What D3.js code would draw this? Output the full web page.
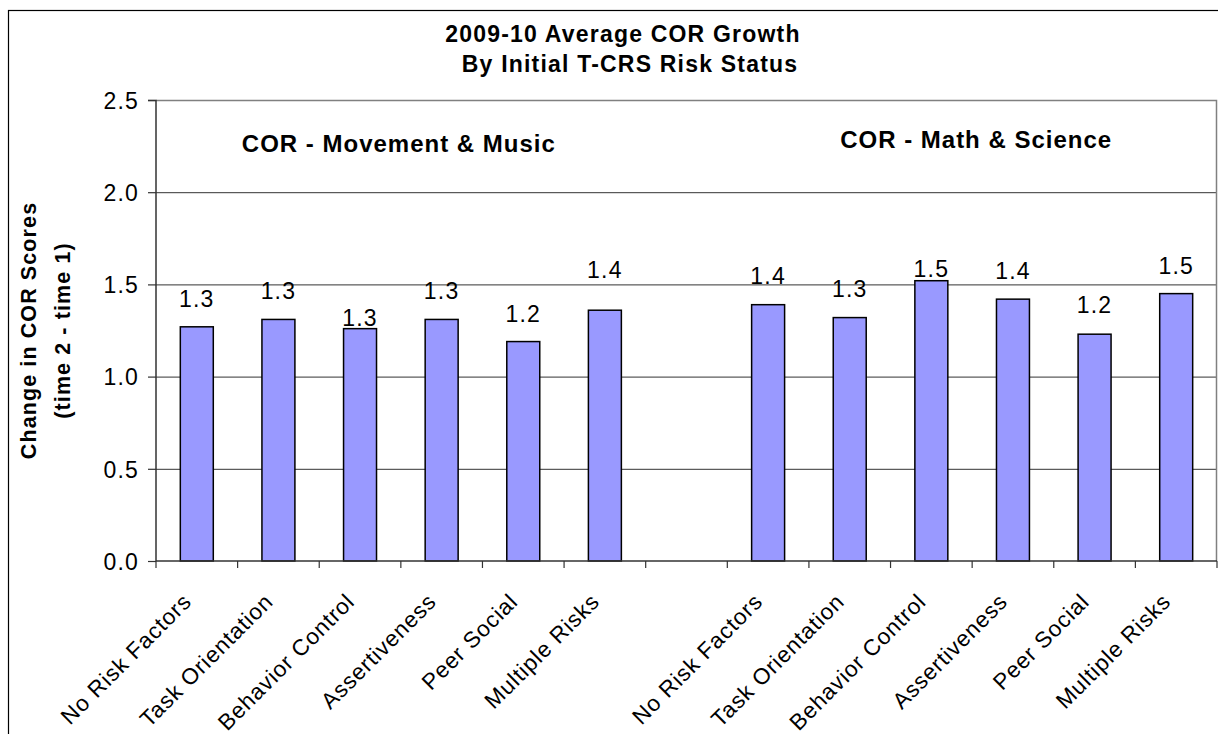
<!DOCTYPE html>
<html>
<head>
<meta charset="utf-8">
<script src="https://cdn.jsdelivr.net/npm/d3@7"></script>
<style>
  body { margin: 0; background: #fff; }
  text { font-family: "Liberation Sans", Arial, sans-serif; fill: #000; }
</style>
</head>
<body>
<div id="chart"></div>
<script>
// values
const categories = ["No Risk Factors", "Task Orientation", "Behavior Control", "Assertiveness", "Peer Social", "Multiple Risks"];
const groupNames = ["COR - Movement & Music", "COR - Math & Science"];
const movementMusic = [1.27, 1.31, 1.26, 1.31, 1.19, 1.36];
const mathScience = [1.39, 1.32, 1.52, 1.42, 1.23, 1.45];
const yTicks = [0, 0.5, 1.0, 1.5, 2.0, 2.5];
// label lift above the bar (px), the original labels were nudged by hand
const labelLiftMM = [20, 20, 3, 20, 20, 32];
const labelLiftMS = [21, 21, 4, 20, 21, 20];

const W = 1218, H = 734;
const margin = {top: 100, right: 1, bottom: 173, left: 156};
const innerW = W - margin.left - margin.right;
const innerH = H - margin.top - margin.bottom;

// 13 slots: 6 bars, one empty gap, 6 bars
const slots = [];
categories.forEach((c, i) => slots.push({key: "a" + i, name: c, value: movementMusic[i], lift: labelLiftMM[i]}));
slots.push({key: "gap", name: "", value: null});
categories.forEach((c, i) => slots.push({key: "b" + i, name: c, value: mathScience[i], lift: labelLiftMS[i]}));

const svg = d3.select("#chart").append("svg")
    .attr("width", W)
    .attr("height", H);

svg.append("rect").attr("width", W).attr("height", H).attr("fill", "#fff");

// chart area border (right side runs off the picture)
svg.append("rect")
    .attr("x", 8.5).attr("y", 10.5)
    .attr("width", 1236).attr("height", 760)
    .attr("fill", "none").attr("stroke", "#000").attr("stroke-width", 1.2);

const g = svg.append("g").attr("transform", `translate(${margin.left},${margin.top})`);

const x = d3.scaleBand()
    .domain(slots.map(d => d.key))
    .range([0, innerW])
    .paddingInner(0.596)
    .paddingOuter(0.298);

const y = d3.scaleLinear().domain([0, 2.5]).range([innerH, 0]);

// gridlines
g.append("g")
    .attr("class", "grid")
    .call(d3.axisLeft(y).tickValues(yTicks.slice(1, -1)).tickSize(-innerW).tickFormat(""))
    .call(s => s.select(".domain").remove())
    .call(s => s.selectAll("line").attr("stroke", "#333").attr("stroke-width", 1));

// plot area border top / right
g.append("path")
    .attr("d", `M0,0.5H${innerW - 0.5}V${innerH}`)
    .attr("fill", "none").attr("stroke", "#808080").attr("stroke-width", 1.5);

// bars
const bars = slots.filter(d => d.value !== null);
g.selectAll("rect.bar")
    .data(bars)
    .enter().append("rect")
    .attr("class", "bar")
    .attr("x", d => x(d.key))
    .attr("y", d => y(d.value))
    .attr("width", x.bandwidth())
    .attr("height", d => innerH - y(d.value))
    .attr("fill", "#9999ff")
    .attr("stroke", "#000")
    .attr("stroke-width", 1.5);

// value labels
g.selectAll("text.val")
    .data(bars)
    .enter().append("text")
    .attr("class", "val")
    .attr("x", d => x(d.key) + x.bandwidth() / 2)
    .attr("y", d => y(d.value) - d.lift)
    .attr("text-anchor", "middle")
    .style("font-size", "23px")
    .style("letter-spacing", "1.2px")
    .text(d => (Math.round(d.value * 10) / 10).toFixed(1));

// y axis
const yAxis = g.append("g")
    .call(d3.axisLeft(y).tickValues(yTicks).tickFormat(d3.format(".1f")).tickSize(8).tickPadding(9))
    .call(s => s.select(".domain").attr("stroke", "#333").attr("stroke-width", 1.5).attr("d", `M-8,0.5H0V${innerH}`));
yAxis.selectAll("line").attr("stroke", "#333").attr("stroke-width", 1.2);
yAxis.selectAll("text")
    .style("font-size", "23px")
    .style("letter-spacing", "1.2px")
    .attr("font-family", null)
    .attr("dy", "0.36em");

// x axis line and category tick marks
const bounds = d3.range(slots.length + 1).map(i => i * x.step());
g.append("line")
    .attr("x1", 0).attr("x2", innerW)
    .attr("y1", innerH).attr("y2", innerH)
    .attr("stroke", "#333").attr("stroke-width", 1.5);
g.selectAll("line.xtick")
    .data(bounds)
    .enter().append("line")
    .attr("class", "xtick")
    .attr("x1", d => d).attr("x2", d => d)
    .attr("y1", innerH).attr("y2", innerH + 7)
    .attr("stroke", "#333").attr("stroke-width", 1.2);

// rotated category labels
g.selectAll("text.cat")
    .data(bars)
    .enter().append("text")
    .attr("class", "cat")
    .attr("text-anchor", "end")
    .attr("transform", d => `translate(${x(d.key) + x.bandwidth() / 2 - 4},${innerH + 42}) rotate(-45)`)
    .style("font-size", "22.5px")
    .style("letter-spacing", "0.9px")
    .text(d => d.name);

// group labels inside plot
const groupX = [x("a0") + (x("a5") + x.bandwidth() - x("a0")) / 2, x("b0") + (x("b5") + x.bandwidth() - x("b0")) / 2];
g.selectAll("text.grp")
    .data(groupNames)
    .enter().append("text")
    .attr("class", "grp")
    .attr("x", (d, i) => groupX[i] + (i === 0 ? -2 : 4))
    .attr("y", (d, i) => i === 0 ? 52 : 48)
    .attr("text-anchor", "middle")
    .style("font-size", "24px")
    .style("font-weight", "bold")
    .style("letter-spacing", "1px")
    .text(d => d);

// chart title
const title = svg.append("text")
    .attr("text-anchor", "middle")
    .style("font-size", "23px")
    .style("font-weight", "bold")
    .style("letter-spacing", "1.2px");
title.append("tspan").attr("x", 623).attr("y", 42).text("2009-10 Average COR Growth");
title.append("tspan").attr("x", 630).attr("y", 72).text("By Initial T-CRS Risk Status");

// y axis title
const yTitle = svg.append("text")
    .attr("transform", `translate(0,${margin.top + innerH / 2}) rotate(-90)`)
    .attr("text-anchor", "middle")
    .style("font-size", "21.5px")
    .style("font-weight", "bold")
    .style("letter-spacing", "1.1px");
yTitle.append("tspan").attr("x", 0).attr("y", 36).text("Change in COR Scores");
yTitle.append("tspan").attr("x", 0).attr("y", 70).text("(time 2 - time 1)");
</script>
</body>
</html>
